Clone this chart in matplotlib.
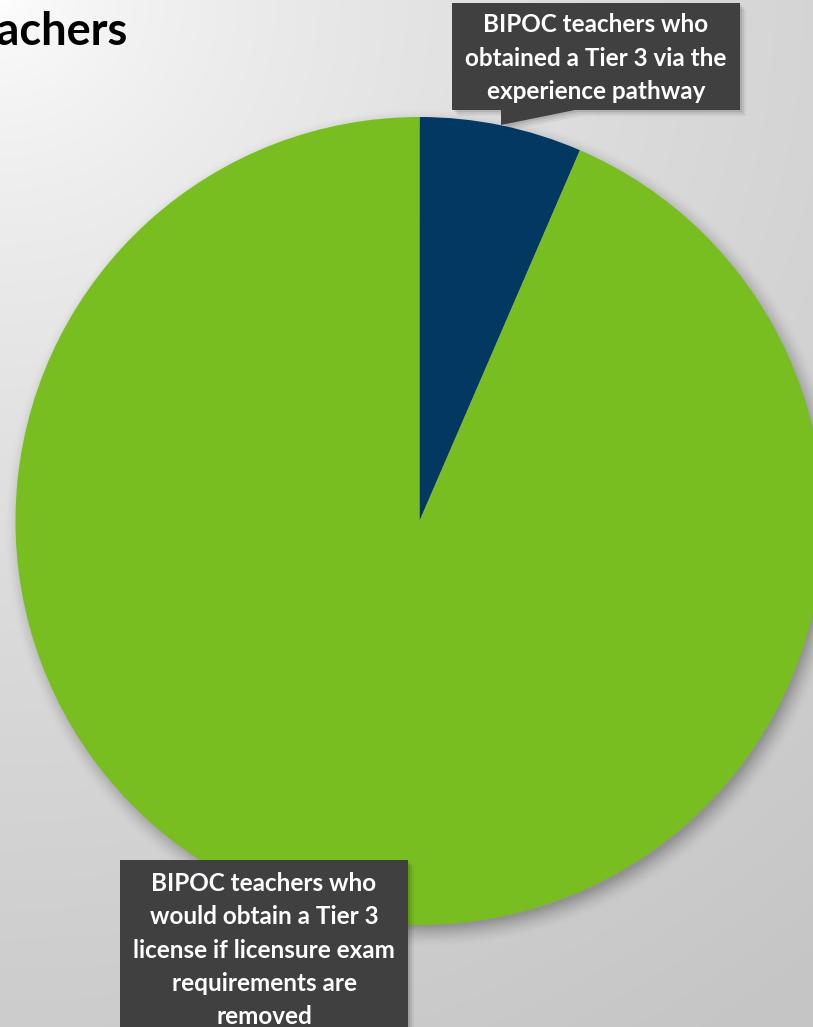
import numpy as np
import matplotlib
matplotlib.use("Agg")
import matplotlib.pyplot as plt
from matplotlib.patches import Polygon

# data
labels = [
    "BIPOC teachers who\nobtained a Tier 3 via the\nexperience pathway",
    "BIPOC teachers who\nwould obtain a Tier 3\nlicense if licensure exam\nrequirements are\nremoved",
]
shares = [6.5, 93.5]
colors = ["#033863", "#78BE21"]
title = "BIPOC Teachers"

W, H = 813, 1027
fig = plt.figure(figsize=(W / 100, H / 100), dpi=100)

# pie geometry in pixels
cx, cy, R = 419.5, 521.0, 404.0

# background: radial grey gradient from the top-left + soft pie shadow
yy, xx = np.mgrid[0:H, 0:W] + 0.5
d = np.hypot(xx, yy * 1.05) / 1320.0
bg = 255 - 58 * np.clip(d, 0, 1) ** 0.65
ds = np.hypot(xx - (cx + 5), yy - (cy + 7))
sh = 1 - np.clip((ds - (R - 6)) / 22.0, 0, 1)
bg = bg * (1 - 0.28 * sh ** 1.6)
rgb = np.dstack([bg, bg, bg]).clip(0, 255) / 255.0

bax = fig.add_axes([0, 0, 1, 1])
bax.imshow(rgb, extent=(0, W, H, 0), interpolation="bilinear")
bax.set_xlim(0, W)
bax.set_ylim(H, 0)
bax.axis("off")

ax = fig.add_axes([(cx - R) / W, (H - cy - R) / H, 2 * R / W, 2 * R / H])
ax.pie(shares, colors=colors, startangle=90, counterclock=False,
       radius=1, wedgeprops=dict(linewidth=0))
ax.set_xlim(-1, 1)
ax.set_ylim(-1, 1)
ax.axis("off")

# overlay in pixel coordinates for the callouts and title
ov = fig.add_axes([0, 0, 1, 1])
ov.set_xlim(0, W)
ov.set_ylim(H, 0)
ov.axis("off")
ov.patch.set_alpha(0)

box_col = "#404040"
font = dict(family=["Lato", "DejaVu Sans"], weight="bold", color="white",
            fontsize=17.5, ha="center", linespacing=1.55)


def callout(pts, text, tx, ty):
    for k, a in [(6, 0.05), (4, 0.07), (2, 0.09)]:
        ov.add_patch(Polygon([(x + k, y + k) for x, y in pts], closed=True,
                             facecolor="black", alpha=a, lw=0))
    ov.add_patch(Polygon(pts, closed=True, facecolor=box_col, lw=0))
    ov.text(tx, ty, text, va="center", **font)


callout([(452, 3), (740, 3), (740, 110), (575, 110), (501, 125), (501, 110), (452, 110)],
        labels[0], 596, 58)
callout([(120, 860), (408, 860), (408, 1040), (120, 1040)],
        labels[1], 264, 950)

# title is cut off at the left edge in the original slide
ov.text(127, 45, title, ha="right", va="baseline", fontsize=32.5,
        family=["Lato", "DejaVu Sans"], weight="bold", color="black")

fig.savefig("out.png", dpi=100)
